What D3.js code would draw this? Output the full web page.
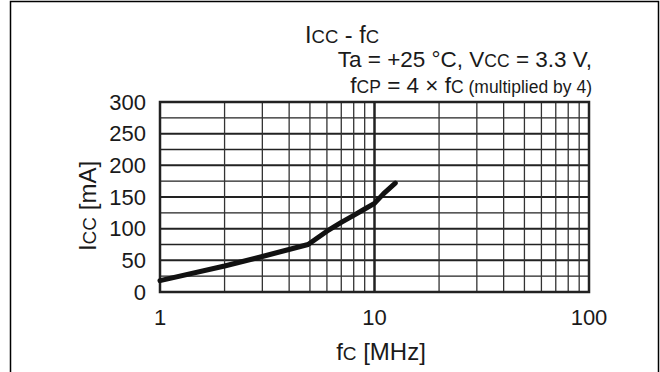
<!DOCTYPE html>
<html>
<head>
<meta charset="utf-8">
<script src="https://cdn.jsdelivr.net/npm/d3@7"></script>
<style>
  body { margin: 0; background: #fff; }
  svg text { font-family: "Liberation Sans", Arial, sans-serif; fill: #1a1a1a; }
</style>
</head>
<body>
<div id="chart"></div>
<script>
// data
const freq = [1, 2, 3, 4.9, 6, 7, 8, 9, 10, 11, 12.5];
const icc = [18, 41, 56, 75, 96, 110, 121, 131, 140, 155, 172];
const yTicks = [0, 50, 100, 150, 200, 250, 300];
const xTicks = [1, 10, 100];

const width = 660, height = 372;
const plotL = 160, plotR = 589, plotT = 102, plotB = 292;
const ink = "#222";

const svg = d3.select('#chart').append('svg')
  .attr('width', width)
  .attr('height', height);

// outer frame (open at the bottom)
svg.append('path')
  .attr('d', `M10.5,${height} V1.5 H658.5 V${height}`)
  .attr('fill', 'none')
  .attr('stroke', '#000')
  .attr('stroke-width', 1.5);

const x = d3.scaleLog().domain([1, 100]).range([plotL, plotR]);
const y = d3.scaleLinear().domain([0, 300]).range([plotB, plotT]);

// horizontal grid, every 25, heavier on 50s
d3.range(25, 300, 25).forEach(v => {
  svg.append('line')
    .attr('x1', plotL).attr('x2', plotR)
    .attr('y1', y(v)).attr('y2', y(v))
    .attr('stroke', ink)
    .attr('stroke-width', v % 50 === 0 ? 2 : 1.3);
});

// vertical grid
const minor = [];
[1, 10].forEach(d => d3.range(2, 10).forEach(k => minor.push(d * k)));
minor.forEach(v => {
  svg.append('line')
    .attr('x1', x(v)).attr('x2', x(v))
    .attr('y1', plotT).attr('y2', plotB)
    .attr('stroke', '#333')
    .attr('stroke-width', 1.3);
});
svg.append('line')
  .attr('x1', x(10)).attr('x2', x(10))
  .attr('y1', plotT).attr('y2', plotB)
  .attr('stroke', ink)
  .attr('stroke-width', 2.5);

// plot border
svg.append('rect')
  .attr('x', plotL).attr('y', plotT)
  .attr('width', plotR - plotL).attr('height', plotB - plotT)
  .attr('fill', 'none')
  .attr('stroke', ink)
  .attr('stroke-width', 2.5);

// curve
const line = d3.line()
  .x((d, i) => x(freq[i]))
  .y(d => y(d));
svg.append('path')
  .datum(icc)
  .attr('d', line)
  .attr('fill', 'none')
  .attr('stroke', '#111')
  .attr('stroke-width', 5)
  .attr('stroke-linecap', 'round')
  .attr('stroke-linejoin', 'round');

// tick labels
svg.selectAll('.ylab').data(yTicks).enter().append('text')
  .attr('x', 146).attr('y', d => y(d))
  .attr('dy', '0.35em')
  .attr('text-anchor', 'end')
  .style('font-size', '22px')
  .text(d => d);

svg.selectAll('.xlab').data(xTicks).enter().append('text')
  .attr('x', d => x(d)).attr('y', 325)
  .attr('text-anchor', 'middle')
  .style('font-size', '22px')
  .text(d => d);

// helper for text with small-caps subscript parts
function rich(parent, parts, attrs) {
  const t = parent.append('text');
  Object.entries(attrs).forEach(([k, v]) => t.attr(k, v));
  parts.forEach(p => {
    t.append('tspan')
      .style('font-size', p[1] + 'px')
      .text(p[0]);
  });
  return t;
}

// axis titles
rich(svg, [['f', 24], ['C', 19], [' [MHz]', 24]],
  { x: 381, y: 360, 'text-anchor': 'middle' });
rich(svg, [['I', 24], ['CC', 19], [' [mA]', 24]],
  { 'text-anchor': 'middle', transform: 'translate(96,206) rotate(-90)' });

// titles
rich(svg, [['I', 23.5], ['CC', 18.5], [' - f', 23.5], ['C', 18.5]],
  { x: 305, y: 43 });
rich(svg, [['Ta = +25 °C, V', 22.5], ['CC', 17.5], [' = 3.3 V,', 22.5]],
  { x: 592, y: 67, 'text-anchor': 'end' });
rich(svg, [['f', 22.5], ['CP', 17.5], [' = 4 × f', 22.5], ['C', 17.5], [' (multiplied by 4)', 17.5]],
  { x: 592, y: 93, 'text-anchor': 'end' });
</script>
</body>
</html>
